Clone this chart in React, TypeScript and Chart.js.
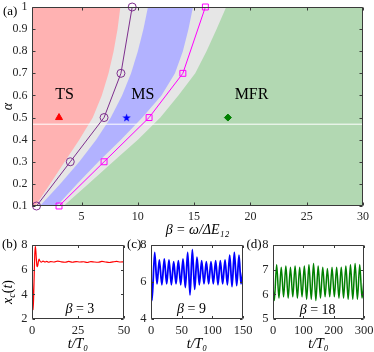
import React, { useEffect, useRef } from "react";
import { Chart, registerables } from "chart.js";

Chart.register(...registerables);

const SERIF = "'Liberation Serif', 'Times New Roman', 'DejaVu Serif', serif";
const INK = "#262626";

// ---------------- panel (a) ----------------
const aXRange = [0.6, 30];
const aYRange = [0.1, 1];
const aXTicks = [5, 10, 15, 20, 25, 30];
const aYTicks = [0.1, 0.2, 0.3, 0.4, 0.5, 0.6, 0.7, 0.8, 0.9, 1];
const alphaLevels = [0.1, 0.2, 0.3, 0.4, 0.5, 0.6, 0.7, 0.8, 0.9, 1.0];
const tsEdgeBeta = [0.9, 2.2, 3.5, 4.8, 6.0, 6.8, 7.4, 7.85, 8.2, 8.45];
const gap1EdgeBeta = [1.3, 3.1, 4.8, 6.3, 7.6, 8.6, 9.4, 10.0, 10.5, 10.9];
const msEdgeBeta = [2.8, 4.6, 6.5, 8.5, 10.4, 12.1, 13.3, 14.0, 14.5, 14.9];
const gap2EdgeBeta = [3.4, 5.6, 7.8, 10.0, 12.0, 13.6, 15.1, 16.1, 17.0, 17.85];
const circleBeta = [1, 4, 7, 8.5, 9.5];
const circleAlpha = [0.1, 0.3, 0.5, 0.7, 1.0];
const squareBeta = [3, 7, 11, 14, 16];
const squareAlpha = [0.1, 0.3, 0.5, 0.7, 1.0];
const markerBeta = [3, 9, 18];
const markerAlpha = [0.5, 0.5, 0.5];
const seamAlpha = 0.47;
const regionNames = ["TS", "MS", "MFR"];
const regionLabelBeta = [3.5, 10.45, 20.1];
const regionLabelAlpha = [0.605, 0.605, 0.605];

// ---------------- panel (b) beta = 3 ----------------
const bT = [0, 0.3, 0.6, 0.9, 1.2, 1.5, 1.8, 2.1, 2.4, 2.7, 3.0, 3.4, 3.8, 4.3, 5, 6, 7, 8, 9, 10, 12, 14, 16, 18, 20, 22, 24, 26, 28, 30, 32, 34, 36, 38, 40, 42, 44, 46, 48, 50];
const bX = [6.5, 4.5, 2.75, 3.8, 5.6, 7.2, 7.9, 7.5, 6.8, 6.3, 6.25, 6.6, 6.85, 6.7, 6.6, 6.7, 6.62, 6.68, 6.6, 6.66, 6.62, 6.7, 6.63, 6.6, 6.67, 6.6, 6.66, 6.62, 6.64, 6.58, 6.66, 6.62, 6.6, 6.67, 6.62, 6.58, 6.63, 6.67, 6.62, 6.63];
const bTicksX = [0, 25, 50];
const bTicksY = [2, 4, 6, 8];

// ---------------- panel (c) beta = 9 ----------------
const cT = [0, 1.6, 6.0, 9.8, 13.6, 17.7, 21.7, 25.5, 29.3, 33.2, 37.0, 40.8, 44.6, 48.4, 52.2, 56.0, 59.8, 63.6, 67.4, 71.2, 75.0, 78.8, 82.6, 86.4, 90.2, 94.0, 97.8, 101.6, 105.4, 109.2, 113.0, 116.8, 120.7, 124.5, 128.3, 132.1, 135.9, 139.7, 143.5, 146.7, 150];
const cX = [6.4, 5.0, 7.6, 5.9, 7.2, 5.85, 7.25, 5.9, 7.2, 5.85, 7.1, 5.9, 7.15, 5.85, 7.25, 5.7, 7.6, 5.3, 7.75, 5.6, 7.35, 5.85, 7.15, 5.9, 7.1, 5.9, 7.1, 5.9, 7.15, 5.85, 7.15, 5.9, 7.2, 5.85, 7.45, 5.75, 7.6, 5.8, 7.45, 5.9, 6.6];
const cTicksX = [0, 50, 100, 150];
const cTicksY = [4, 6, 8];

// ---------------- panel (d) beta = 18 ----------------
const dT = [0, 4.3, 12, 19.6, 27.2, 34.8, 42.4, 50, 57.6, 65.2, 72.8, 80.4, 88, 95.7, 103.3, 110.9, 118.5, 126.1, 133.7, 141.3, 148.9, 156.5, 164.1, 171.7, 179.3, 187, 194.6, 202.2, 209.8, 217.4, 225, 232.6, 240.2, 247.8, 255.4, 263, 270.7, 278.3, 285.9, 293.5, 300];
const dX = [6.3, 5.75, 7.2, 5.85, 7.1, 5.9, 7.15, 5.85, 7.1, 5.9, 7.15, 5.85, 7.1, 5.9, 7.15, 5.8, 7.2, 5.8, 7.25, 5.75, 7.15, 5.85, 7.1, 5.9, 7.05, 5.9, 7.1, 5.9, 7.1, 5.85, 7.1, 5.85, 7.15, 5.8, 7.2, 5.8, 7.25, 5.8, 7.2, 5.85, 6.6];
const dTicksX = [0, 100, 200, 300];
const dTicksY = [5, 6, 7, 8];

type Part = { t: string; it?: boolean; sub?: boolean };
type Note = { parts: Part[]; x: number; y: number; data?: boolean; size: number; align?: string; rot?: boolean };

function drawRich(ctx: CanvasRenderingContext2D, parts: Part[], x: number, y: number, size: number, align: string) {
  const fonts = parts.map((p) => `${p.it ? "italic " : ""}${p.sub ? Math.round(size * 0.7) : size}px ${SERIF}`);
  const widths = parts.map((p, i) => {
    ctx.font = fonts[i];
    return ctx.measureText(p.t).width;
  });
  const total = widths.reduce((a, b) => a + b, 0);
  let cx = align === "center" ? x - total / 2 : align === "right" ? x - total : x;
  ctx.textAlign = "left";
  ctx.textBaseline = "middle";
  parts.forEach((p, i) => {
    ctx.font = fonts[i];
    ctx.fillText(p.t, cx, p.sub ? y + size * 0.3 : y);
    cx += widths[i];
  });
}

const notesPlugin = (notes: Note[]) => ({
  id: "notes",
  afterDraw(chart: any) {
    const ctx = chart.ctx as CanvasRenderingContext2D;
    notes.forEach((n) => {
      let x = n.x;
      let y = n.y;
      if (n.data) {
        x = chart.scales.x.getPixelForValue(n.x);
        y = chart.scales.y.getPixelForValue(n.y);
      }
      ctx.save();
      ctx.fillStyle = "#000";
      if (n.rot) {
        ctx.translate(x, y);
        ctx.rotate(-Math.PI / 2);
        drawRich(ctx, n.parts, 0, 0, n.size, "center");
      } else {
        drawRich(ctx, n.parts, x, y, n.size, n.align || "left");
      }
      ctx.restore();
    });
  },
});

const framePlugin = (tickLen: number) => ({
  id: "frame",
  afterDatasetsDraw(chart: any) {
    const ctx = chart.ctx as CanvasRenderingContext2D;
    const a = chart.chartArea;
    const sx = chart.scales.x;
    const sy = chart.scales.y;
    const l = Math.round(a.left) + 0.5;
    const r = Math.round(a.right) - 0.5;
    const t = Math.round(a.top) + 0.5;
    const b = Math.round(a.bottom) - 0.5;
    ctx.save();
    ctx.strokeStyle = "#3a3a3a";
    ctx.lineWidth = 1;
    ctx.beginPath();
    ctx.rect(l, t, r - l, b - t);
    sx.ticks.forEach((tk: any) => {
      const p = Math.round(sx.getPixelForValue(tk.value)) + 0.5;
      ctx.moveTo(p, b);
      ctx.lineTo(p, b - tickLen);
      ctx.moveTo(p, t);
      ctx.lineTo(p, t + tickLen);
    });
    sy.ticks.forEach((tk: any) => {
      const p = Math.round(sy.getPixelForValue(tk.value)) + 0.5;
      ctx.moveTo(l, p);
      ctx.lineTo(l + tickLen, p);
      ctx.moveTo(r, p);
      ctx.lineTo(r - tickLen, p);
    });
    ctx.stroke();
    ctx.restore();
  },
});

const xy = (xs: number[], ys: number[]) => xs.map((x, i) => ({ x, y: ys[i] }));

function axis(range: number[], ticks: number[], size: number, fontSize: number, pad: number, isX: boolean, title?: any) {
  return {
    type: "linear",
    min: range[0],
    max: range[1],
    bounds: "data",
    afterBuildTicks: (s: any) => {
      s.ticks = ticks.map((v) => ({ value: v }));
    },
    afterFit: (s: any) => {
      if (isX) {
        s.height = size;
        s.paddingLeft = 0;
        s.paddingRight = 0;
      } else {
        s.width = size;
        s.paddingTop = 0;
        s.paddingBottom = 0;
      }
    },
    grid: { display: false, drawTicks: false },
    border: { display: false },
    ticks: {
      font: { family: SERIF, size: fontSize },
      color: INK,
      padding: pad,
      maxRotation: 0,
      minRotation: 0,
      autoSkip: false,
      callback: (v: any) => String(Number(v)),
    },
    title: title || { display: false },
  };
}

function makeStar(color: string) {
  const c = document.createElement("canvas");
  c.width = 9;
  c.height = 9;
  const g = c.getContext("2d")!;
  g.fillStyle = color;
  g.beginPath();
  for (let i = 0; i < 10; i++) {
    const r = i % 2 === 0 ? 4.4 : 1.8;
    const ang = -Math.PI / 2 + (i * Math.PI) / 5;
    g.lineTo(4.5 + r * Math.cos(ang), 4.9 + r * Math.sin(ang));
  }
  g.closePath();
  g.fill();
  return c;
}

function makeMain(canvas: HTMLCanvasElement) {
  const regionPoly = (edge: number[]) => [
    { x: aXRange[0] - 2, y: alphaLevels[0] },
    ...xy(edge, alphaLevels),
    { x: aXRange[0] - 2, y: alphaLevels[alphaLevels.length - 1] },
  ];
  const fullPoly = [
    { x: aXRange[0] - 2, y: aYRange[0] - 0.1 },
    { x: aXRange[1] + 2, y: aYRange[0] - 0.1 },
    { x: aXRange[1] + 2, y: aYRange[1] + 0.1 },
    { x: aXRange[0] - 2, y: aYRange[1] + 0.1 },
  ];
  const region = (data: any[], color: string, order: number) => ({
    data,
    backgroundColor: color,
    borderColor: color,
    borderWidth: 0,
    pointRadius: 0,
    fill: "shape",
    tension: 0,
    order,
  });
  const notes: Note[] = [
    { parts: [{ t: "(a)" }], x: 3, y: 12, size: 13 },
    ...regionNames.map((n, i) => ({ parts: [{ t: n }], x: regionLabelBeta[i], y: regionLabelAlpha[i], data: true, size: 16, align: "center" })),
  ];
  return new Chart(canvas, {
    type: "line",
    data: {
      datasets: [
        { data: xy([markerBeta[0]], [markerAlpha[0]]), showLine: false, pointStyle: "triangle", pointRadius: 4, backgroundColor: "#ff0000", borderColor: "#ff0000", borderWidth: 1, clip: false, order: 0 },
        { data: xy([markerBeta[1]], [markerAlpha[1]]), showLine: false, pointStyle: makeStar("#0000ff"), pointRadius: 4, backgroundColor: "#0000ff", borderColor: "#0000ff", clip: false, order: 0 },
        { data: xy([markerBeta[2]], [markerAlpha[2]]), showLine: false, pointStyle: "rectRot", pointRadius: 3.5, backgroundColor: "#008000", borderColor: "#008000", borderWidth: 1, clip: false, order: 0 },
        { data: xy(circleBeta, circleAlpha), borderColor: "#7e2f8e", borderWidth: 1, pointStyle: "circle", pointRadius: 4, pointBorderWidth: 1, pointBackgroundColor: "rgba(0,0,0,0)", pointBorderColor: "#7e2f8e", fill: false, tension: 0, clip: false, order: 1 },
        { data: xy(squareBeta, squareAlpha), borderColor: "#ff00ff", borderWidth: 1, pointStyle: "rect", pointRadius: 4.2, pointBorderWidth: 1, pointBackgroundColor: "rgba(0,0,0,0)", pointBorderColor: "#ff00ff", fill: false, tension: 0, clip: false, order: 1 },
        { data: xy(aXRange, [seamAlpha, seamAlpha]), borderColor: "#ffffff", borderWidth: 1, pointRadius: 0, fill: false, order: 5 },
        region(regionPoly(tsEdgeBeta), "rgb(255,178,178)", 6),
        region(regionPoly(gap1EdgeBeta), "rgb(230,230,230)", 7),
        region(regionPoly(msEdgeBeta), "rgb(178,178,255)", 8),
        region(regionPoly(gap2EdgeBeta), "rgb(230,230,230)", 9),
        region(fullPoly, "rgb(178,216,178)", 10),
      ] as any,
    },
    options: {
      responsive: false,
      devicePixelRatio: 1,
      animation: false,
      events: [],
      layout: { padding: { left: 0, top: 7, right: 11, bottom: 0 } },
      plugins: { legend: { display: false }, tooltip: { enabled: false } },
      scales: {
        x: axis(aXRange, aXTicks, 34, 12, 4, true, {
          display: true,
          text: "β = ω/ΔE₁₂",
          color: "#000",
          font: { family: SERIF, size: 14, style: "italic" },
          padding: { top: 0, bottom: 1 },
        }),
        y: axis(aYRange, aYTicks, 32, 12, 4.5, false, {
          display: true,
          text: "α",
          color: "#000",
          font: { family: SERIF, size: 14, style: "italic" },
          padding: { top: 0, bottom: 0 },
        }),
      } as any,
    },
    plugins: [framePlugin(3), notesPlugin(notes)] as any,
  });
}

function makeSeries(
  canvas: HTMLCanvasElement,
  ts: number[],
  vs: number[],
  color: string,
  width: number,
  xTicks: number[],
  yTicks: number[],
  yAxisWidth: number,
  padRight: number,
  notes: Note[],
) {
  return new Chart(canvas, {
    type: "line",
    data: {
      datasets: [
        {
          data: xy(ts, vs),
          borderColor: color,
          borderWidth: width,
          pointRadius: 0,
          fill: false,
          cubicInterpolationMode: "monotone",
        },
      ] as any,
    },
    options: {
      responsive: false,
      devicePixelRatio: 1,
      animation: false,
      events: [],
      layout: { padding: { left: 0, top: 9, right: padRight, bottom: 0 } },
      plugins: { legend: { display: false }, tooltip: { enabled: false } },
      scales: {
        x: axis([xTicks[0], xTicks[xTicks.length - 1]], xTicks, 35, 12.5, 4, true, {
          display: true,
          text: "t/T₀",
          color: "#000",
          font: { family: SERIF, size: 14, style: "italic" },
          padding: { top: 0, bottom: 1 },
        }),
        y: axis([yTicks[0], yTicks[yTicks.length - 1]], yTicks, yAxisWidth, 12.5, 4.5, false),
      } as any,
    },
    plugins: [framePlugin(2.5), notesPlugin(notes)] as any,
  });
}

export default function App() {
  const aRef = useRef<HTMLCanvasElement>(null);
  const bRef = useRef<HTMLCanvasElement>(null);
  const cRef = useRef<HTMLCanvasElement>(null);
  const dRef = useRef<HTMLCanvasElement>(null);

  useEffect(() => {
    const charts: Chart[] = [];
    charts.push(makeMain(aRef.current!));
    charts.push(
      makeSeries(bRef.current!, bT, bX, "#ff0000", 1.2, bTicksX, bTicksY, 32, 16, [
        { parts: [{ t: "(b)" }], x: 2, y: 9, size: 13 },
        { parts: [{ t: "x", it: true }, { t: "c", it: true, sub: true }, { t: "(" }, { t: "t", it: true }, { t: ")" }], x: 8.5, y: 56, size: 14, rot: true },
        { parts: [{ t: "β", it: true }, { t: " = 3" }], x: 26, y: 2.75, data: true, size: 14, align: "center" },
      ]),
    );
    charts.push(
      makeSeries(cRef.current!, cT, cX, "#0000ff", 1.8, cTicksX, cTicksY, 31, 11, [
        { parts: [{ t: "(c)" }], x: 7, y: 9, size: 13 },
        { parts: [{ t: "β", it: true }, { t: " = 9" }], x: 66, y: 4.5, data: true, size: 14, align: "center" },
      ]),
    );
    charts.push(
      makeSeries(dRef.current!, dT, dX, "#008000", 1.5, dTicksX, dTicksY, 33, 10, [
        { parts: [{ t: "(d)" }], x: 6.5, y: 9, size: 13 },
        { parts: [{ t: "β", it: true }, { t: " = 18" }], x: 147, y: 5.37, data: true, size: 14, align: "center" },
      ]),
    );
    return () => charts.forEach((c) => c.destroy());
  }, []);

  const abs = (left: number, top: number) => ({ position: "absolute" as const, left, top });
  return (
    <div style={{ position: "fixed", left: 0, top: 0, width: 374, height: 352, overflow: "hidden", background: "#fff" }}>
      <canvas ref={bRef} width={140} height={118} style={abs(0, 236)} />
      <canvas ref={cRef} width={134} height={118} style={abs(120, 236)} />
      <canvas ref={dRef} width={134} height={118} style={abs(240, 236)} />
      <canvas ref={aRef} width={374} height={240} style={abs(0, 0)} />
    </div>
  );
}
